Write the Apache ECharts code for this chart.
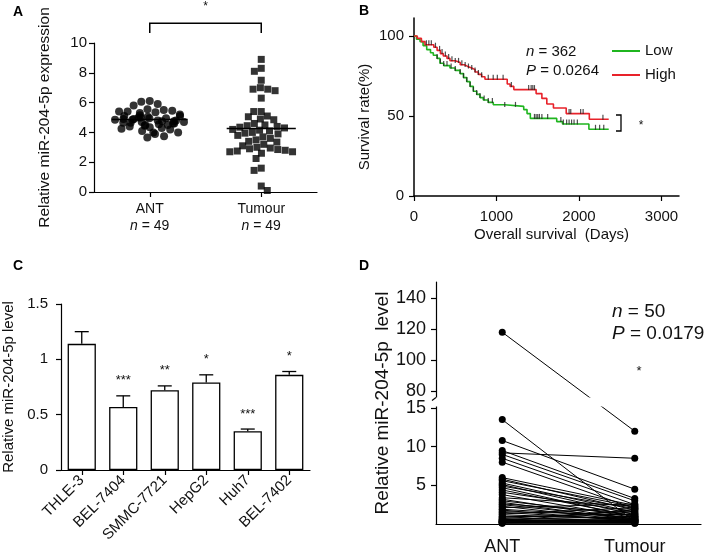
<!DOCTYPE html>
<html><head><meta charset="utf-8">
<script src="https://cdn.jsdelivr.net/npm/echarts@6/dist/echarts.min.js"></script>
<style>html,body{margin:0;padding:0;background:#fff}#c{width:709px;height:557px}</style>
</head><body><div id="c"></div>
<script>
// ---------- Panel A : scatter of expression ----------
const aCategories = ['ANT', 'Tumour'];
const aCounts = [49, 49];
const aAnt = [6.1, 6.05, 5.9, 5.8, 5.55, 5.5, 5.45, 5.4, 5.4, 5.35, 5.3, 5.2, 5.15, 5.1, 5.1, 5.05, 5.0, 5.0, 4.95, 4.95,
  4.9, 4.9, 4.85, 4.85, 4.8, 4.8, 4.75, 4.75, 4.7, 4.7, 4.65, 4.65, 4.6, 4.6, 4.55, 4.5, 4.5, 4.45, 4.4, 4.35,
  4.3, 4.25, 4.2, 4.1, 4.0, 4.0, 3.9, 3.75, 3.65];
const aTumour = [8.9, 8.3, 8.1, 7.5, 7.0, 6.9, 6.9, 6.8, 6.3, 5.4, 5.4, 5.1, 5.05, 4.9, 4.85, 4.6, 4.5, 4.45, 4.4, 4.35,
  4.3, 4.2, 4.15, 4.1, 4.0, 3.95, 3.9, 3.8, 3.7, 3.6, 3.5, 3.4, 3.35, 3.2, 3.1, 3.0, 2.95, 2.9, 2.85, 2.8,
  2.75, 2.7, 2.7, 2.6, 2.25, 1.6, 1.45, 0.4, 0.1];
const aMeans = [4.87, 4.27];
const aMeanWidths = [0.68, 0.62];
const aBracket = [10.67, 11.33];

// ---------- Panel B : Kaplan-Meier ----------
const bHigh = [[0,100],[40,98.5],[90,96.5],[133,94.5],[240,93],[280,91],[320,89],[355,87.5],[400,86],[436,84.5],
  [500,83.5],[560,82],[610,81],[650,80],[700,79],[740,77.5],[780,76],[820,74.5],[860,73],[1130,70],[1165,68.5],
  [1210,66.5],[1480,64],[1550,61],[1610,57.5],[1690,55],[1845,51.5],[2125,48],[2360,48]];
const bLow = [[0,100],[30,98],[73,96.5],[110,94],[154,91.5],[200,89.5],[234,88],[280,86],[315,83],[360,81.5],
  [436,80],[500,78.5],[558,76.5],[600,74],[639,71.5],[680,68.5],[719,65.5],[760,63.5],[800,61.5],[840,60],
  [900,58.5],[961,57],[1100,56],[1330,54],[1370,51.5],[1410,48.5],[1730,46.5],[1800,45],[2120,41.7],[2360,41.7]];
const bCensorHigh = [150,180,210,260,310,340,380,420,460,500,540,580,620,660,700,740,780,820,900,960,1010,1080,
  1180,1390,1420,1440,1460,1880,1900,2020,2050,2290];
const bCensorLow = [280,320,360,400,450,500,560,600,640,680,720,760,800,850,900,950,1100,1230,1460,1480,1500,
  1520,1550,1620,1780,1810,1850,1880,1910,1940,1980,2200,2250,2300];
const bXTicks = [0, 1000, 2000, 3000];
const bYTicks = [0, 50, 100];

// ---------- Panel C : bar chart ----------
const cCategories = ['THLE-3', 'BEL-7404', 'SMMC-7721', 'HepG2', 'Huh7', 'BEL-7402'];
const cValues = [1.14, 0.57, 0.72, 0.79, 0.35, 0.86];
const cErrors = [0.11, 0.10, 0.04, 0.07, 0.02, 0.03];
const cStars = ['', '***', '**', '*', '***', '*'];

// ---------- Panel D : paired lines with broken axis ----------
const dCategories = ['ANT', 'Tumour'];
const dAnt = [118, 13.5, 10.8, 9.5, 9.2, 9.0, 8.5, 8.0, 6.0, 5.8, 5.6, 5.3, 5.1, 4.9, 4.7, 4.4, 4.1, 3.8, 3.4, 3.2,
  3.0, 2.8, 2.6, 2.5, 2.3, 2.1, 1.9, 1.8, 1.6, 1.5, 1.3, 1.2, 1.0, 0.9, 0.8, 0.7, 0.6, 0.55, 0.5, 0.45,
  0.4, 0.35, 0.3, 0.28, 0.25, 0.2, 0.18, 0.15, 0.12, 0.1];
const dTumour = [12, 0.3, 4.5, 3.3, 8.5, 3.0, 2.5, 2.0, 2.4, 1.8, 2.2, 1.5, 1.2, 2.0, 0.9, 1.0, 1.6, 0.8, 2.3, 0.6,
  1.1, 0.5, 1.4, 0.7, 0.4, 2.6, 0.9, 0.3, 1.2, 0.5, 2.1, 0.6, 0.8, 1.3, 0.4, 1.7, 0.2, 1.0, 0.3, 0.7,
  0.5, 1.9, 0.4, 0.2, 0.6, 0.3, 0.1, 0.5, 0.2, 0.1];
const dLowTicks = [5, 10, 15];
const dHighTicks = [80, 100, 120, 140];

// broken-axis mapping: lower segment 0-15 linear, upper segment compressed
const D_BREAK_LOW = 15, D_BREAK_HIGH = 80, D_HIGH_BASE = 17.2, D_HIGH_SCALE = 0.2;
function dMap(v) { return v <= D_BREAK_LOW ? v : D_HIGH_BASE + (v - D_BREAK_HIGH) * D_HIGH_SCALE; }
function dUnmap(t) { return t <= D_BREAK_LOW + 0.5 ? t : D_BREAK_HIGH + (t - D_HIGH_BASE) / D_HIGH_SCALE; }
function kmAt(curve, t) { let s = curve[0][1]; for (const p of curve) { if (p[0] <= t) s = p[1]; else break; } return s; }

const FONT = '"Liberation Sans", Arial, Helvetica, sans-serif';
const INK = '#111';
const LINE = { lineStyle: { color: '#000', width: 1.2 } };

const chart = echarts.init(document.getElementById('c'), null, { renderer: 'canvas' });

const dTickVals = dLowTicks.concat(dHighTicks.map(dMap));

const series = [];
// A
series.push({ type: 'scatter', xAxisIndex: 0, yAxisIndex: 0, data: aAnt.map(v => [aCategories[0], v]),
  symbol: 'circle', symbolSize: 8, itemStyle: { color: '#000' }, silent: true });
series.push({ type: 'scatter', xAxisIndex: 0, yAxisIndex: 0, data: aTumour.map(v => [aCategories[1], v]),
  symbol: 'rect', symbolSize: 7, itemStyle: { color: '#000' }, silent: true });
series.push({ type: 'custom', xAxisIndex: 0, yAxisIndex: 0, z: 5, silent: true,
  data: aMeans.map((m, i) => [i, m]),
  renderItem: (params, api) => {
    const p = api.coord([api.value(0), api.value(1)]);
    const hw = api.size([1, 0])[0] * aMeanWidths[params.dataIndex] / 2;
    return { type: 'line', shape: { x1: p[0] - hw, y1: p[1], x2: p[0] + hw, y2: p[1] }, style: { stroke: '#000', lineWidth: 1.5 } };
  } });
series.push({ type: 'custom', xAxisIndex: 0, yAxisIndex: 0, clip: false, silent: true,
  data: [[0, 1, aBracket[0], aBracket[1]]],
  renderItem: (params, api) => {
    const p1 = api.coord([api.value(0), api.value(2)]);
    const p2 = api.coord([api.value(0), api.value(3)]);
    const p3 = api.coord([api.value(1), api.value(3)]);
    const p4 = api.coord([api.value(1), api.value(2)]);
    return { type: 'group', children: [
      { type: 'polyline', shape: { points: [p1, p2, p3, p4] }, style: { stroke: '#000', lineWidth: 1.5, fill: null } },
      { type: 'text', style: { text: '*', x: (p2[0] + p3[0]) / 2, y: p2[1] - 16, align: 'center', verticalAlign: 'middle', font: '12px ' + FONT, fill: INK } }
    ] };
  } });
// B
series.push({ name: 'Low', type: 'line', xAxisIndex: 1, yAxisIndex: 1, data: bLow, step: 'end', symbol: 'none',
  lineStyle: { color: '#1fb51f', width: 1.6 }, itemStyle: { color: '#1fb51f' }, silent: true });
series.push({ name: 'High', type: 'line', xAxisIndex: 1, yAxisIndex: 1, data: bHigh, step: 'end', symbol: 'none',
  lineStyle: { color: '#e8222a', width: 1.6 }, itemStyle: { color: '#e8222a' }, silent: true });
series.push({ type: 'scatter', xAxisIndex: 1, yAxisIndex: 1, data: bCensorLow.map(t => [t, kmAt(bLow, t)]),
  symbol: 'rect', symbolSize: [1.2, 5], symbolOffset: [0, -2], itemStyle: { color: '#222' }, silent: true, z: 4 });
series.push({ type: 'scatter', xAxisIndex: 1, yAxisIndex: 1, data: bCensorHigh.map(t => [t, kmAt(bHigh, t)]),
  symbol: 'rect', symbolSize: [1.2, 5], symbolOffset: [0, -2], itemStyle: { color: '#222' }, silent: true, z: 4 });
// C
series.push({ type: 'bar', xAxisIndex: 2, yAxisIndex: 2, data: cValues, barWidth: '68%', silent: true,
  itemStyle: { color: '#fff', borderColor: '#000', borderWidth: 1.3 } });
series.push({ type: 'custom', xAxisIndex: 2, yAxisIndex: 2, z: 5, clip: false, silent: true,
  data: cValues.map((v, i) => [i, v, v + cErrors[i]]),
  renderItem: (params, api) => {
    const base = api.coord([api.value(0), api.value(1)]);
    const top = api.coord([api.value(0), api.value(2)]);
    return { type: 'group', children: [
      { type: 'line', shape: { x1: base[0], y1: base[1], x2: top[0], y2: top[1] }, style: { stroke: '#000', lineWidth: 1.3 } },
      { type: 'line', shape: { x1: top[0] - 7, y1: top[1], x2: top[0] + 7, y2: top[1] }, style: { stroke: '#000', lineWidth: 1.3 } },
      { type: 'text', style: { text: cStars[params.dataIndex], x: top[0], y: top[1] - 15, align: 'center', verticalAlign: 'middle', font: '13px ' + FONT, fill: INK } }
    ] };
  } });
// D
for (let i = 0; i < dAnt.length; i++) {
  series.push({ type: 'line', xAxisIndex: 3, yAxisIndex: 3, silent: true,
    data: [[dCategories[0], dMap(dAnt[i])], [dCategories[1], dMap(dTumour[i])]],
    symbol: 'circle', symbolSize: 7, itemStyle: { color: '#000' }, lineStyle: { color: '#000', width: 1 } });
}
series.push({ type: 'custom', xAxisIndex: 3, yAxisIndex: 3, z: 10, clip: false, silent: true,
  data: [[0, 0]],
  renderItem: (params, api) => {
    const cs = params.coordSys;
    const yl = api.coord([0, D_BREAK_LOW])[1] - 1.5;
    const yh = yl - 9;
    return { type: 'group', children: [
      { type: 'rect', shape: { x: cs.x - 4, y: yh, width: cs.width + 4, height: yl - yh }, style: { fill: '#fff' } },
      { type: 'line', shape: { x1: cs.x, y1: yh, x2: cs.x - 4, y2: yh + 3 }, style: { stroke: '#000', lineWidth: 1.2 } }
    ] };
  } });

const gridBase = { containLabel: false, outerBoundsMode: 'none' };
const option = {
  animation: false,
  textStyle: { fontFamily: FONT, color: INK },
  grid: [
    Object.assign({ left: 94, top: 43, width: 223, height: 149 }, gridBase),
    Object.assign({ left: 414, top: 18, width: 265, height: 178 }, gridBase),
    Object.assign({ left: 61, top: 304, width: 249, height: 166 }, gridBase),
    Object.assign({ left: 436, top: 282, width: 265, height: 242 }, gridBase)
  ],
  legend: { data: ['Low', 'High'], orient: 'vertical', left: 607, top: 37, itemWidth: 28, itemHeight: 2, itemGap: 6,
    icon: 'rect', textStyle: { fontSize: 15, color: INK, fontFamily: FONT, lineHeight: 18 }, selectedMode: false },
  xAxis: [
    { gridIndex: 0, type: 'category', data: aCategories, boundaryGap: true, jitter: 70, jitterOverlap: false, jitterMargin: 0.5,
      axisLine: LINE, axisTick: { show: true, alignWithLabel: true, length: 5, lineStyle: { color: '#000', width: 1.2 } },
      axisLabel: { margin: 9, color: INK, interval: 0,
        formatter: (v, i) => '{c|' + v + '}\n{i|n}{c| = ' + aCounts[i] + '}',
        rich: { c: { fontSize: 14, lineHeight: 17, fontFamily: FONT, color: INK }, i: { fontSize: 14, lineHeight: 17, fontStyle: 'italic', fontFamily: FONT, color: INK } } },
      splitLine: { show: false } },
    { gridIndex: 1, type: 'value', min: 0, max: 3212,
      axisLine: { show: true, lineStyle: { color: '#000', width: 1.5 } },
      axisTick: { show: true, customValues: bXTicks, length: 5, lineStyle: { color: '#000', width: 1.2 } },
      axisLabel: { customValues: bXTicks, fontSize: 15, margin: 13, color: INK, formatter: v => String(v) },
      splitLine: { show: false },
      name: 'Overall survival  (Days)', nameLocation: 'middle', nameGap: 31, nameTextStyle: { fontSize: 15, color: INK, padding: [0, 0, 0, 10] } },
    { gridIndex: 2, type: 'category', data: cCategories, boundaryGap: true,
      axisLine: LINE, axisTick: { show: true, alignWithLabel: true, length: 5, lineStyle: { color: '#000', width: 1.2 } },
      axisLabel: { rotate: 45, fontSize: 15, margin: 8, interval: 0, color: INK }, splitLine: { show: false } },
    { gridIndex: 3, type: 'category', data: dCategories, boundaryGap: true,
      axisLine: LINE, axisTick: { show: false },
      axisLabel: { fontSize: 18, margin: 14, color: INK }, splitLine: { show: false } }
  ],
  yAxis: [
    { gridIndex: 0, type: 'value', min: 0, max: 10, interval: 2,
      axisLine: { show: true, lineStyle: { color: '#000', width: 1.2 } },
      axisTick: { show: true, length: 5, lineStyle: { color: '#000', width: 1.2 } },
      axisLabel: { fontSize: 15, margin: 7, color: INK }, splitLine: { show: false },
      name: 'Relative miR-204-5p expression', nameLocation: 'middle', nameGap: 41, nameTextStyle: { fontSize: 15.5, color: INK } },
    { gridIndex: 1, type: 'value', min: 0, max: 111.25,
      axisLine: { show: true, lineStyle: { color: '#000', width: 1.5 } },
      axisTick: { show: true, customValues: bYTicks, length: 5, lineStyle: { color: '#000', width: 1.2 } },
      axisLabel: { customValues: bYTicks, fontSize: 15, margin: 10, color: INK }, splitLine: { show: false },
      name: 'Survival rate(%)', nameLocation: 'middle', nameGap: 42, nameTextStyle: { fontSize: 15, color: INK, padding: [0, 20, 0, 0] } },
    { gridIndex: 2, type: 'value', min: 0, max: 1.5, interval: 0.5,
      axisLine: { show: true, lineStyle: { color: '#000', width: 1.2 } },
      axisTick: { show: true, length: 5, lineStyle: { color: '#000', width: 1.2 } },
      axisLabel: { fontSize: 15, margin: 13, color: INK }, splitLine: { show: false },
      name: 'Relative miR-204-5p level', nameLocation: 'middle', nameGap: 45, nameTextStyle: { fontSize: 15, color: INK } },
    { gridIndex: 3, type: 'value', min: 0, max: 31.3,
      axisLine: { show: true, lineStyle: { color: '#000', width: 1.2 } },
      axisTick: { show: true, customValues: dTickVals, length: 5, lineStyle: { color: '#000', width: 1.2 } },
      axisLabel: { customValues: dTickVals, fontSize: 18, margin: 10, color: INK, formatter: v => String(Math.round(dUnmap(v))) },
      splitLine: { show: false },
      name: 'Relative miR-204-5p  level', nameLocation: 'middle', nameGap: 44, nameTextStyle: { fontSize: 19, color: INK } }
  ],
  graphic: [
    { type: 'text', left: 13, top: 5, style: { text: 'A', font: 'bold 14px ' + FONT, fill: '#000' } },
    { type: 'text', left: 359, top: 4, style: { text: 'B', font: 'bold 14px ' + FONT, fill: '#000' } },
    { type: 'text', left: 13, top: 259, style: { text: 'C', font: 'bold 14px ' + FONT, fill: '#000' } },
    { type: 'text', left: 359, top: 259, style: { text: 'D', font: 'bold 14px ' + FONT, fill: '#000' } },
    { type: 'text', x: 526, y: 52, style: { text: '{i|n} = 362', verticalAlign: 'middle', font: '15px ' + FONT, fill: INK, rich: { i: { fontStyle: 'italic', fontSize: 15, fontFamily: FONT } } } },
    { type: 'text', x: 526, y: 71, style: { text: '{i|P} = 0.0264', verticalAlign: 'middle', font: '15px ' + FONT, fill: INK, rich: { i: { fontStyle: 'italic', fontSize: 15, fontFamily: FONT } } } },
    { type: 'polyline', shape: { points: [[616, 115], [621, 115], [621, 131], [616, 131]] }, style: { stroke: '#000', lineWidth: 1.3, fill: null } },
    { type: 'text', x: 641, y: 126, style: { text: '*', align: 'center', verticalAlign: 'middle', font: '12px ' + FONT, fill: INK } },
    { type: 'text', x: 612, y: 312, style: { text: '{i|n} = 50', verticalAlign: 'middle', font: '19px ' + FONT, fill: INK, rich: { i: { fontStyle: 'italic', fontSize: 19, fontFamily: FONT } } } },
    { type: 'text', x: 612, y: 334, style: { text: '{i|P} = 0.0179', verticalAlign: 'middle', font: '19px ' + FONT, fill: INK, rich: { i: { fontStyle: 'italic', fontSize: 19, fontFamily: FONT } } } },
    { type: 'text', x: 639, y: 371, style: { text: '*', align: 'center', verticalAlign: 'middle', font: '13px ' + FONT, fill: INK } }
  ],
  series: series
};
chart.setOption(option);
</script></body></html>
